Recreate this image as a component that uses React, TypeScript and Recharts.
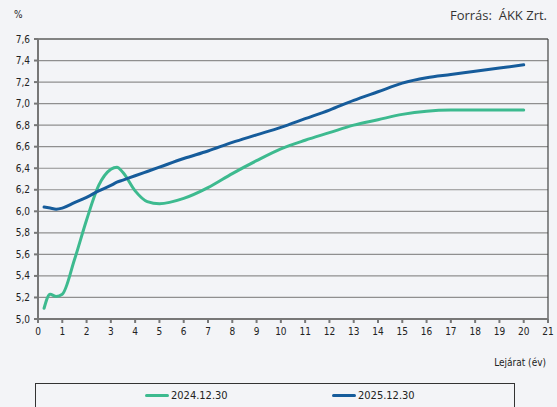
import * as React from "react";
import { CartesianGrid, Line, LineChart, ReferenceLine, XAxis, YAxis } from "recharts";

// Hozamgörbe: lejárat (év) szerinti hozam, %
const maturities = [0.25, 0.5, 0.75, 1, 1.5, 2, 2.5, 3, 3.25, 3.5, 4, 4.5, 5, 6, 7, 8, 9, 10, 11, 12, 13, 14, 15, 16, 17, 18, 19, 20];
const y2024 = [5.1, 5.23, 5.21, 5.23, 5.55, 5.92, 6.24, 6.39, 6.41, 6.36, 6.19, 6.09, 6.07, 6.12, 6.22, 6.35, 6.47, 6.58, 6.66, 6.73, 6.8, 6.85, 6.9, 6.93, 6.94, 6.94, 6.94, 6.94];
const y2025 = [6.04, 6.03, 6.02, 6.03, 6.08, 6.13, 6.19, 6.24, 6.27, 6.29, 6.33, 6.37, 6.41, 6.49, 6.56, 6.64, 6.71, 6.78, 6.86, 6.94, 7.03, 7.11, 7.19, 7.24, 7.27, 7.3, 7.33, 7.36];
const xTicks = Array.from({ length: 22 }, (_, i) => i);
const yTicks = [5.0, 5.2, 5.4, 5.6, 5.8, 6.0, 6.2, 6.4, 6.6, 6.8, 7.0, 7.2, 7.4, 7.6];

const GREEN = "#3dba8f";
const BLUE = "#165c9b";
const FONT = "'DejaVu Sans Condensed', 'DejaVu Sans', sans-serif";

const data = maturities.map((m, i) => ({ m, a: y2024[i], b: y2025[i] }));

// a legenda a diagram alatt, keretben (a képen alul levágva)
function LegendBox(): React.ReactElement {
  const item = (color: string, label: string, left: number) => (
    <div style={{ position: "absolute", left, top: 5, display: "flex", alignItems: "center" }}>
      <span style={{ display: "inline-block", width: 24, height: 3, background: color, borderRadius: 2 }} />
      <span style={{ marginLeft: 2, fontSize: 11, color: "#222" }}>{label}</span>
    </div>
  );
  return (
    <div style={{ position: "absolute", left: 35, top: 383, width: 480, height: 30, border: "1px solid #333", boxSizing: "border-box" }}>
      {item(GREEN, "2024.12.30", 109)}
      {item(BLUE, "2025.12.30", 296)}
    </div>
  );
}

export default function App(): React.ReactElement {
  return (
    <div style={{ position: "absolute", left: 0, top: 0, width: 557, height: 407, background: "#f3f4f7", overflow: "hidden", fontFamily: FONT }}>
      <div style={{ position: "absolute", left: 14, top: 9, fontSize: 10, color: "#222" }}>%</div>
      <div style={{ position: "absolute", right: 10, top: 6, fontSize: 13, color: "#333", fontFamily: "'Open Sans', sans-serif" }}>Forrás:&nbsp; ÁKK Zrt.</div>
      <div style={{ position: "absolute", right: 11, top: 357, fontSize: 10, color: "#222" }}>Lejárat (év)</div>
      <LineChart width={557} height={407} data={data} margin={{ top: 39, right: 9, left: 0, bottom: 68 }}>
        <CartesianGrid vertical={false} stroke="#8f8f8f" strokeWidth={1.2} />
        <XAxis
          dataKey="m"
          type="number"
          domain={[0, 21]}
          ticks={xTicks}
          interval={0}
          height={20}
          stroke="#777"
          strokeWidth={2}
          tickSize={4}
          tickMargin={5}
          tick={{ fontSize: 10, fill: "#222", fontFamily: FONT }}
        />
        <YAxis
          type="number"
          domain={[5, 7.6]}
          ticks={yTicks}
          interval={0}
          width={38}
          stroke="#777"
          strokeWidth={2}
          tickSize={4}
          tickMargin={4}
          tickFormatter={(v: number) => v.toFixed(1).replace(".", ",")}
          tick={{ fontSize: 10, fill: "#222", fontFamily: FONT }}
        />
        <ReferenceLine y={7.6} stroke="#444" strokeWidth={1.2} />
        <ReferenceLine x={21} stroke="#444" strokeWidth={1.2} />
        <Line dataKey="a" name="2024.12.30" type="monotone" stroke={GREEN} strokeWidth={3} dot={false} isAnimationActive={false} strokeLinecap="round" />
        <Line dataKey="b" name="2025.12.30" type="monotone" stroke={BLUE} strokeWidth={3} dot={false} isAnimationActive={false} strokeLinecap="round" />
      </LineChart>
      <LegendBox />
    </div>
  );
}
